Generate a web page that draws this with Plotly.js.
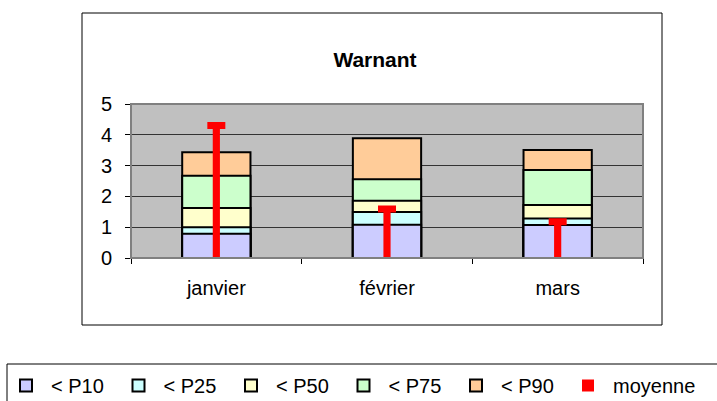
<!DOCTYPE html>
<html>
<head>
<meta charset="utf-8">
<script src="https://cdn.plot.ly/plotly-3.0.1.min.js"></script>
<style>html,body{margin:0;padding:0;background:#fff;}#chart{width:717px;height:401px;}</style>
</head>
<body>
<div id="chart"></div>
<script>
const categories = ['janvier', 'février', 'mars'];
const p10 = [0.79, 1.08, 1.07];
const p25 = [1.00, 1.49, 1.28];
const p50 = [1.62, 1.86, 1.72];
const p75 = [2.67, 2.56, 2.86];
const p90 = [3.43, 3.89, 3.51];
const moyenne = [4.30, 1.59, 1.18];
const seriesNames = ['< P10', '< P25', '< P50', '< P75', '< P90', 'moyenne'];
const colors = ['#CCCCFF', '#CCFFFF', '#FFFFCC', '#CCFFCC', '#FFCC99', '#FF0000'];

const FONT = 'Liberation Sans, Arial, sans-serif';
// plot area in pixels
const L = 131, R = 643, T = 104, B = 258, W = 717, H = 401;
const px = x => (x - L) / (R - L);
const py = y => (B - y) / (B - T);

const pct = [p10, p25, p50, p75, p90];
const traces = [];
// overlay: draw highest percentile first so lower ones sit on top
for (let i = pct.length - 1; i >= 0; i--) {
  traces.push({
    type: 'bar', x: categories, y: pct[i], name: seriesNames[i],
    width: 0.4, legendrank: i + 1, legend: 'legend',
    marker: {color: colors[i], line: {color: '#000000', width: 2}},
    hoverinfo: 'x+y+name'
  });
}
traces.push({
  type: 'bar', x: categories, y: moyenne, name: seriesNames[5],
  width: 0.042, legendrank: 6, legend: 'legend2',
  marker: {color: colors[5], line: {color: '#800000', width: 0}},
  error_y: {type: 'data', array: [0, 0, 0], visible: true, color: '#FF0000', thickness: 7, width: 9}
});

const legendCommon = {
  orientation: 'h', xanchor: 'left', yanchor: 'top', y: py(366),
  bgcolor: 'rgba(0,0,0,0)', borderwidth: 0, font: {family: FONT, size: 20},
  itemwidth: 40, traceorder: 'normal'
};

const layout = {
  width: W, height: H,
  margin: {l: L, r: W - R, t: T, b: H - B, pad: 0, autoexpand: false},
  paper_bgcolor: '#FFFFFF', plot_bgcolor: '#C0C0C0',
  barmode: 'overlay', bargap: 0.6,
  showlegend: true,
  font: {family: FONT, size: 20, color: '#000000'},
  title: {text: '<b>Warnant</b>', font: {family: FONT, size: 21, color: '#000'},
          xref: 'paper', x: px(375), xanchor: 'center', yref: 'container', y: 1 - 60 / H, yanchor: 'middle'},
  xaxis: {type: 'category', showline: true, linecolor: '#000', linewidth: 1,
          ticks: 'outside', tickson: 'boundaries', ticklen: 5, tickcolor: '#000', tickwidth: 1,
          showgrid: false, ticklabelstandoff: 12, tickfont: {family: FONT, size: 20}},
  yaxis: {range: [0, 5], dtick: 1, showline: true, linecolor: '#000', linewidth: 1,
          ticks: 'outside', ticklen: 5, tickcolor: '#000', tickwidth: 1,
          showgrid: true, gridcolor: '#333333', gridwidth: 1, zeroline: false,
          ticklabelstandoff: 9, tickfont: {family: FONT, size: 20}},
  legend: Object.assign({}, legendCommon, {x: px(1), entrywidth: 57.5, entrywidthmode: 'pixels'}),
  legend2: Object.assign({}, legendCommon, {x: px(563)}),
  shapes: [
    {type: 'rect', xref: 'paper', yref: 'paper', x0: 0, x1: 1, y0: 0, y1: 1,
     line: {color: '#808080', width: 2}, layer: 'above'},
    {type: 'rect', xref: 'paper', yref: 'paper', x0: px(82), x1: px(662), y0: py(325), y1: py(13),
     line: {color: '#000000', width: 1}, layer: 'below'},
    {type: 'rect', xref: 'paper', yref: 'paper', x0: px(7), x1: px(740), y0: py(420), y1: py(364),
     line: {color: '#000000', width: 1}, layer: 'below'}
  ]
};

Plotly.newPlot('chart', traces, layout, {displayModeBar: false, staticPlot: true});
</script>
</body>
</html>
